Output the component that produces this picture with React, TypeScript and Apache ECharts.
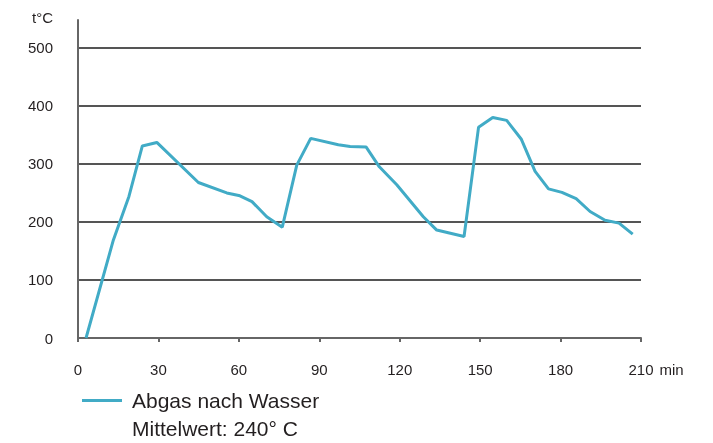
import React, { useEffect, useRef } from "react";
import * as echarts from "echarts";

const seriesName = "Abgas nach Wasser";
const meanLabel = "Mittelwert: 240° C";
const timeMin = [3, 13.2, 19, 24, 29.4, 44.9, 55.5, 60.4, 64.9, 70.4, 76.2, 81.6, 86.8, 97.1, 101.5, 107.5, 112.4, 118.9, 128.8, 133.8, 144, 149.4, 154.7, 159.9, 165.3, 170.5, 175.5, 180.5, 185.8, 191, 196.6, 201.8, 206.9];
const tempC = [0, 169, 244, 331, 337, 268, 250, 245, 235, 209, 191, 298, 344, 333, 330, 329, 295, 264, 209, 186, 175, 363, 380, 375, 343, 287, 257, 251, 240, 218, 203, 198, 179];
const xTicks = [0, 30, 60, 90, 120, 150, 180, 210];
const yTicks = [0, 100, 200, 300, 400, 500];

export default function App() {
  const ref = useRef<HTMLDivElement>(null);
  useEffect(() => {
    if (!ref.current) return;
    const chart = echarts.init(ref.current, null, { renderer: "svg" });
    const font = "'Liberation Sans', Arial, sans-serif";
    const textColor = "#231f20";
    chart.setOption({
      animation: false,
      grid: { left: 78, right: 72, top: 20, bottom: 105 },
      xAxis: {
        type: "value",
        min: xTicks[0],
        max: xTicks[xTicks.length - 1],
        interval: 30,
        name: "min",
        nameLocation: "end",
        nameGap: 16,
        nameTextStyle: { color: textColor, fontSize: 15, fontFamily: font, verticalAlign: "top", lineHeight: 15, padding: [24, 0, 0, 0] },
        axisLine: { show: true, lineStyle: { color: "#666", width: 2 } },
        axisTick: { show: true, length: 4, lineStyle: { color: "#666", width: 2 } },
        axisLabel: { color: textColor, fontSize: 15, fontFamily: font, margin: 24 },
        splitLine: { show: false },
      },
      yAxis: {
        type: "value",
        min: 0,
        max: 548,
        interval: 100,
        name: "t°C",
        nameLocation: "end",
        nameGap: 3,
        nameTextStyle: { color: textColor, fontSize: 15, fontFamily: font, align: "right", verticalAlign: "middle", padding: [0, 25, 0, 0] },
        axisLine: { show: true, lineStyle: { color: "#666", width: 2 } },
        axisTick: { show: false },
        axisLabel: {
          color: textColor, fontSize: 15, fontFamily: font, margin: 25, showMaxLabel: false,
          formatter: (v: number) => (yTicks.includes(v) ? String(v) : ""),
        },
        splitLine: { show: true, showMaxLine: false, lineStyle: { color: "#555", width: 2 } },
      },
      legend: {
        show: true,
        left: 82,
        top: 390,
        padding: 0,
        orient: "vertical",
        icon: "rect",
        itemWidth: 40,
        itemHeight: 3,
        textStyle: { color: textColor, fontSize: 21, fontFamily: font, padding: [0, 0, 0, 5] },
        data: [seriesName],
      },
      graphic: [
        {
          type: "text",
          left: 132,
          top: 418,
          style: { text: meanLabel, fill: textColor, fontSize: 21, fontFamily: font },
        },
      ],
      series: [
        {
          name: seriesName,
          type: "line",
          data: timeMin.map((t, i) => [t, tempC[i]]),
          showSymbol: false,
          symbol: "none",
          lineStyle: { color: "#41abc6", width: 3 },
          itemStyle: { color: "#41abc6" },
        },
      ],
    });
    return () => chart.dispose();
  }, []);
  return <div ref={ref} style={{ position: "fixed", left: 0, top: 0, width: 713, height: 443 }} />;
}
